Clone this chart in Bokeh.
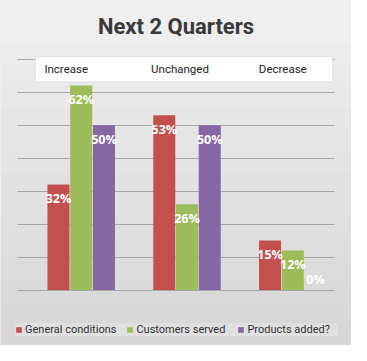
from bokeh.plotting import figure
from bokeh.models import (ColumnDataSource, FactorRange, FixedTicker, Legend, LegendItem,
                          BoxAnnotation, Label, LabelSet, Range1d)
from bokeh.transform import dodge
from bokeh.core.properties import value
from bokeh.embed import file_html
from bokeh.resources import INLINE

categories = ["Increase", "Unchanged", "Decrease"]
series_names = ["General conditions", "Customers served", "Products added?"]
general_conditions = [32, 53, 15]
customers_served = [62, 26, 12]
products_added = [50, 50, 0]
y_ticks = [0, 10, 20, 30, 40, 50, 60, 70]

colors = ["#c4504e", "#9dbd5a", "#8667a6"]
offsets = [-0.111, 0.104, 0.319]

src = ColumnDataSource(dict(
    cat=categories,
    gc=general_conditions,
    cs=customers_served,
    pa=products_added,
    gc_lbl=[f"{v}%" for v in general_conditions],
    cs_lbl=[f"{v}%" for v in customers_served],
    pa_lbl=[f"{v}%" for v in products_added],
    gc_off=[14 if v > 0 else -11 for v in general_conditions],
    cs_off=[14 if v > 0 else -11 for v in customers_served],
    pa_off=[14 if v > 0 else -11 for v in products_added],
    hdr_y=[66.9] * len(categories),
    hdr_dx=[-4, 4, 1],
))

YMIN, YMAX = -16.8, 87.8
p = figure(x_range=FactorRange(*categories, range_padding=0.159, range_padding_units="absolute"),
           y_range=Range1d(YMIN, YMAX),
           width=351, height=345, output_backend="svg", toolbar_location=None,
           min_border=0, min_border_left=0, min_border_right=0,
           min_border_top=0, min_border_bottom=0)
p.background_fill_color = "#e2e2e2"
p.border_fill_color = "#e2e2e2"
p.outline_line_color = None
p.xaxis.visible = False
p.yaxis.visible = False
p.xgrid.visible = False

# soft vertical background gradient
n_bands = 16
top_c, bot_c = (0xf0, 0xf0, 0xf0), (0xd6, 0xd6, 0xd6)
for i in range(n_bands):
    t = (i + 0.5) / n_bands
    c = tuple(int(round(a + (b - a) * t)) for a, b in zip(top_c, bot_c))
    hi = YMAX - (YMAX - YMIN) * i / n_bands
    lo = YMAX - (YMAX - YMIN) * (i + 1) / n_bands
    p.add_layout(BoxAnnotation(bottom=lo - 0.05, top=hi + 0.05, fill_color="#%02x%02x%02x" % c,
                               fill_alpha=1, line_color=None, level="image"))

p.yaxis.ticker = FixedTicker(ticks=y_ticks)
p.ygrid.ticker = FixedTicker(ticks=y_ticks)
p.ygrid.grid_line_color = "#a8a8a8"
p.ygrid.grid_line_width = 1.2
p.ygrid.cross_bounds = (0, 3)

renderers = []
for field, col, off in zip(["gc", "cs", "pa"], colors, offsets):
    r = p.vbar(x=dodge("cat", off, range=p.x_range), top=field, width=0.208, source=src,
               fill_color=col, line_color=None)
    renderers.append(r)

for field, off in zip(["gc", "cs", "pa"], offsets):
    p.text(x=dodge("cat", off, range=p.x_range), y=field, text=field + "_lbl", source=src,
           y_offset=field + "_off", text_align="center", text_baseline="middle",
           text_color="white", text_font=value("Open Sans"), text_font_style="bold",
           text_font_size="12.5px")

# header strip with category names
p.add_layout(BoxAnnotation(left=0.172, right=2.98, bottom=63.2, top=70.7,
                           fill_color="white", fill_alpha=1,
                           line_color="#c4c4c4", line_width=1))
p.add_layout(LabelSet(x="cat", y="hdr_y", text="cat", x_offset="hdr_dx", source=src,
                      text_align="center", text_baseline="middle", text_color="#222222",
                      text_font=value("Roboto"), text_font_size="11.5px"))

# title
p.add_layout(Label(x=1.5, y=80, text="Next 2 Quarters", text_align="center",
                   text_baseline="middle", text_color="#3a3a3a",
                   text_font="Roboto", text_font_style="bold",
                   text_font_size="22px"))

legend = Legend(items=[LegendItem(label=n, renderers=[r]) for n, r in zip(series_names, renderers)],
                orientation="horizontal", location=(15, 9),
                background_fill_color="#e0e0e0", background_fill_alpha=1,
                border_line_color=None, glyph_width=7, glyph_height=7,
                label_standoff=3, spacing=10, padding=6, label_width=91, margin=0,
                label_text_font="Roboto", label_text_font_size="11px",
                label_text_color="#333333")
p.add_layout(legend)

open("out.html", "w").write(file_html(p, INLINE))
